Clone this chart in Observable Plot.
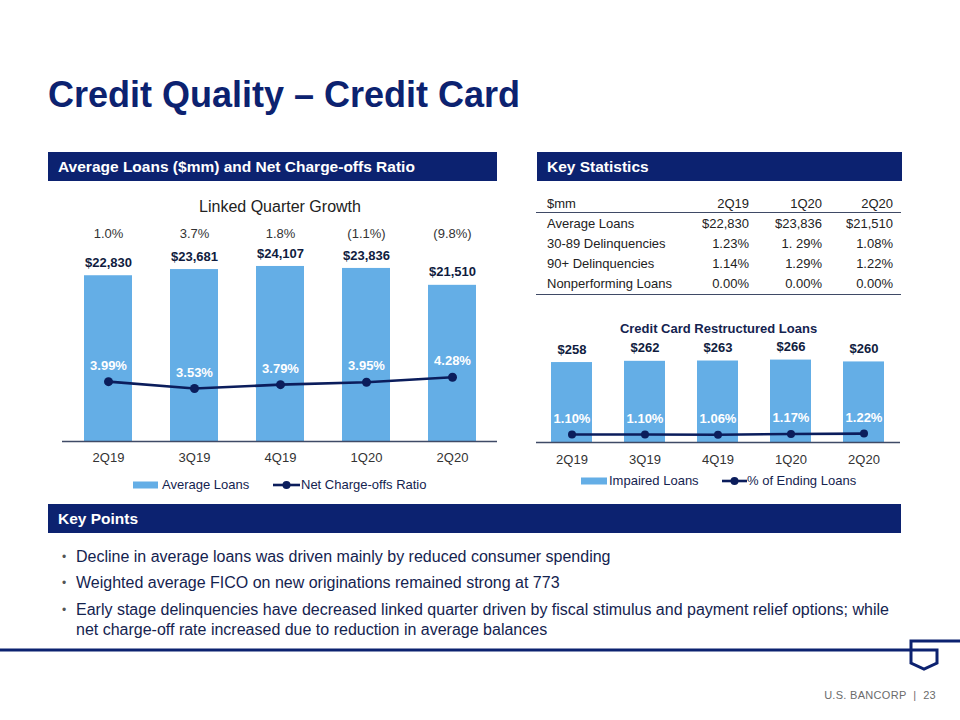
<!DOCTYPE html>
<html>
<head>
<meta charset="utf-8">
<script src="https://cdn.jsdelivr.net/npm/d3@7"></script>
<script src="https://cdn.jsdelivr.net/npm/@observablehq/plot@0.6"></script>
<style>
  html, body { margin: 0; padding: 0; background: #fff; }
  body { width: 960px; height: 720px; position: relative; overflow: hidden;
         font-family: "Liberation Sans", Arial, sans-serif; }
  .abs { position: absolute; white-space: nowrap; }
  .title { left: 48px; top: 77px; font-size: 36px; line-height: 36px; font-weight: bold; color: #0c2270; }
  .bar { position: absolute; height: 29px; background: #0c2270; color: #fff; font-weight: bold;
         font-size: 15.5px; line-height: 29px; padding-left: 10px; box-sizing: border-box; }
  .bullet { position: absolute; left: 76px; font-size: 16px; line-height: 20px; color: #14234f; }
  .bullet::before { content: "•"; position: absolute; left: -14px; top: 0; font-size: 12px; color: #555; }
  .leg { position: absolute; font-size: 13px; line-height: 16px; color: #14234f; white-space: nowrap; }
  .cell { position: absolute; font-size: 13px; line-height: 16px; color: #222; white-space: nowrap; }
  .hline { position: absolute; height: 0; border-top: 1.5px solid #3f4a66; }
  .chart { position: absolute; }
</style>
</head>
<body>
<div class="abs title">Credit Quality – Credit Card</div>
<div class="bar" style="left:48px; top:152px; width:449px;">Average Loans ($mm) and Net Charge-offs Ratio</div>
<div class="bar" style="left:537px; top:152px; width:365px;">Key Statistics</div>
<div class="bar" style="left:48px; top:504px; width:853px;">Key Points</div>

<div id="leftChart" class="chart" style="left:40px; top:190px;"></div>
<div id="rightChart" class="chart" style="left:520px; top:310px;"></div>
<div id="table"></div>
<div id="legends"></div>
<div id="bullets"></div>

<svg class="abs" style="left:0px; top:630px;" width="960" height="45">
  <path d="M0,20 H937 V33 L924,39 L911,33 V11 H960" fill="none" stroke="#0c2270" stroke-width="3" stroke-linejoin="miter"/>
</svg>
<div class="abs" style="right:24px; top:687px; font-size:11px; line-height:16px; letter-spacing:0.3px; color:#6b6b6b;">U.S. BANCORP&nbsp;&nbsp;|&nbsp;&nbsp;23</div>

<script>
// ---------- data ----------
const quarters = ["2Q19", "3Q19", "4Q19", "1Q20", "2Q20"];
const averageLoans = [22830, 23681, 24107, 23836, 21510];
const netChargeOffRatio = [3.99, 3.53, 3.79, 3.95, 4.28];
const linkedQuarterGrowth = ["1.0%", "3.7%", "1.8%", "(1.1%)", "(9.8%)"];

const impairedLoans = [258, 262, 263, 266, 260];
const pctEndingLoans = [1.10, 1.10, 1.06, 1.17, 1.22];

const statHeader = ["$mm", "2Q19", "1Q20", "2Q20"];
const statRows = ["Average Loans", "30-89 Delinquencies", "90+ Delinquencies", "Nonperforming Loans"];
const statCol2Q19 = ["$22,830", "1.23%", "1.14%", "0.00%"];
const statCol1Q20 = ["$23,836", "1. 29%", "1.29%", "0.00%"];
const statCol2Q20 = ["$21,510", "1.08%", "1.22%", "0.00%"];

const keyPoints = [
  "Decline in average loans was driven mainly by reduced consumer spending",
  "Weighted average FICO on new originations remained strong at 773",
  "Early stage delinquencies have decreased linked quarter driven by fiscal stimulus and payment relief options; while<br>net charge-off rate increased due to reduction in average balances"
];

// ---------- styles ----------
const BAR = "#64aee6";
const NAVY = "#0b1d5c";
const LABEL = "#101c40";
const FONT = "'Liberation Sans', Arial, sans-serif";
const fmtUSD = d3.format("$,");

// ---------- left chart ----------
const leftData = quarters.map((q, i) => ({q, loans: averageLoans[i], ratio: netChargeOffRatio[i], growth: linkedQuarterGrowth[i]}));
const K1 = 2066; // ratio (%) expressed in loan units (secondary axis)
const left = Plot.plot({
  width: 470, height: 310,
  marginTop: 0, marginLeft: 22, marginRight: 13, marginBottom: 59,
  style: {fontFamily: FONT, fontSize: "13px", color: "#333", background: "transparent", overflow: "visible"},
  x: {domain: quarters, paddingInner: 0.447, paddingOuter: 0.23, label: null, tickSize: 0, tickPadding: 11},
  y: {domain: [0, 34570], axis: null},
  marks: [
    Plot.barY(leftData, {x: "q", y: "loans", fill: BAR}),
    Plot.ruleY([0], {stroke: "#3f4a66", strokeWidth: 1.5}),
    Plot.text(leftData, {x: "q", y: "loans", text: d => fmtUSD(d.loans), dy: -13, fontWeight: "bold", fill: LABEL, fontSize: 13}),
    Plot.line(leftData, {x: "q", y: d => d.ratio * K1, stroke: NAVY, strokeWidth: 2.6}),
    Plot.dot(leftData, {x: "q", y: d => d.ratio * K1, r: 4.5, fill: NAVY}),
    Plot.text(leftData, {x: "q", y: d => d.ratio * K1, text: d => d.ratio.toFixed(2) + "%", dy: -16, fill: "#fff", fontWeight: "bold", fontSize: 13}),
    Plot.text(leftData, {x: "q", text: "growth", frameAnchor: "top", lineAnchor: "middle", dy: 43, fill: "#333", fontSize: 13}),
    Plot.text(["Linked Quarter Growth"], {text: d => d, frameAnchor: "top", lineAnchor: "middle", dy: 16, fill: "#222", fontSize: 16})
  ]
});
document.getElementById("leftChart").appendChild(left);

// ---------- right chart ----------
const rightData = quarters.map((q, i) => ({q, impaired: impairedLoans[i], pct: pctEndingLoans[i]}));
const K2 = 23.5;
const right = Plot.plot({
  width: 400, height: 190,
  marginTop: 0, marginLeft: 16, marginRight: 20, marginBottom: 58,
  style: {fontFamily: FONT, fontSize: "13px", color: "#333", background: "transparent", overflow: "visible"},
  x: {domain: quarters, paddingInner: 0.438, paddingOuter: 0.212, label: null, tickSize: 0, tickPadding: 12},
  y: {domain: [0, 426], axis: null},
  marks: [
    Plot.barY(rightData, {x: "q", y: "impaired", fill: BAR}),
    Plot.ruleY([0], {stroke: "#3f4a66", strokeWidth: 1.5}),
    Plot.text(rightData, {x: "q", y: "impaired", text: d => "$" + d.impaired, dy: -13, fontWeight: "bold", fill: LABEL, fontSize: 13}),
    Plot.line(rightData, {x: "q", y: d => d.pct * K2, stroke: NAVY, strokeWidth: 2.6}),
    Plot.dot(rightData, {x: "q", y: d => d.pct * K2, r: 4, fill: NAVY}),
    Plot.text(rightData, {x: "q", y: d => d.pct * K2, text: d => d.pct.toFixed(2) + "%", dy: -16, fill: "#fff", fontWeight: "bold", fontSize: 13}),
    Plot.text(["Credit Card Restructured Loans"], {text: d => d, frameAnchor: "top", lineAnchor: "middle", dy: 18, fill: "#14234f", fontWeight: "bold", fontSize: 13})
  ]
});
document.getElementById("rightChart").appendChild(right);

// ---------- table ----------
const tbl = document.getElementById("table");
const rowY = [204, 224, 244, 264, 284];
const colRight = [749, 822, 893];
function addCell(text, y, opts) {
  const d = document.createElement("div");
  d.className = "cell";
  d.textContent = text;
  d.style.top = (y - 8) + "px";
  if (opts.left != null) d.style.left = opts.left + "px";
  if (opts.right != null) d.style.right = (960 - opts.right) + "px";
  tbl.appendChild(d);
}
addCell(statHeader[0], rowY[0], {left: 547});
statHeader.slice(1).forEach((h, j) => addCell(h, rowY[0], {right: colRight[j]}));
const statCols = [statCol2Q19, statCol1Q20, statCol2Q20];
statRows.forEach((r, i) => {
  addCell(r, rowY[i + 1], {left: 547});
  statCols.forEach((col, j) => addCell(col[i], rowY[i + 1], {right: colRight[j]}));
});
[212, 294].forEach(y => {
  const l = document.createElement("div");
  l.className = "hline";
  l.style.left = "536px"; l.style.width = "365px"; l.style.top = y + "px";
  tbl.appendChild(l);
});

// ---------- legends ----------
const leg = document.getElementById("legends");
function legendItems(items) {
  items.forEach(it => {
    const s = document.createElementNS("http://www.w3.org/2000/svg", "svg");
    s.setAttribute("width", it.w); s.setAttribute("height", 12);
    s.style.position = "absolute"; s.style.left = it.x + "px"; s.style.top = (it.y - 6) + "px";
    if (it.type === "bar") {
      s.innerHTML = `<rect x="0" y="2.5" width="${it.w}" height="7" fill="${BAR}"/>`;
    } else {
      s.innerHTML = `<line x1="0" x2="${it.w}" y1="6" y2="6" stroke="${NAVY}" stroke-width="2.6"/><circle cx="${it.w / 2}" cy="6" r="4" fill="${NAVY}"/>`;
    }
    leg.appendChild(s);
    const t = document.createElement("div");
    t.className = "leg";
    t.textContent = it.label;
    t.style.left = it.tx + "px"; t.style.top = (it.y - 8) + "px";
    leg.appendChild(t);
  });
}
legendItems([
  {type: "bar", x: 133, w: 25, y: 485, tx: 162, label: "Average Loans"},
  {type: "line", x: 273, w: 27, y: 485, tx: 301, label: "Net Charge-offs Ratio"},
  {type: "bar", x: 581, w: 26, y: 481, tx: 609, label: "Impaired Loans"},
  {type: "line", x: 722, w: 25, y: 481, tx: 747, label: "% of Ending Loans"}
]);

// ---------- bullets ----------
const bl = document.getElementById("bullets");
const bulletTops = [547, 573, 600];
keyPoints.forEach((k, i) => {
  const d = document.createElement("div");
  d.className = "bullet";
  d.style.top = bulletTops[i] + "px";
  d.innerHTML = k;
  bl.appendChild(d);
});
</script>
</body>
</html>
